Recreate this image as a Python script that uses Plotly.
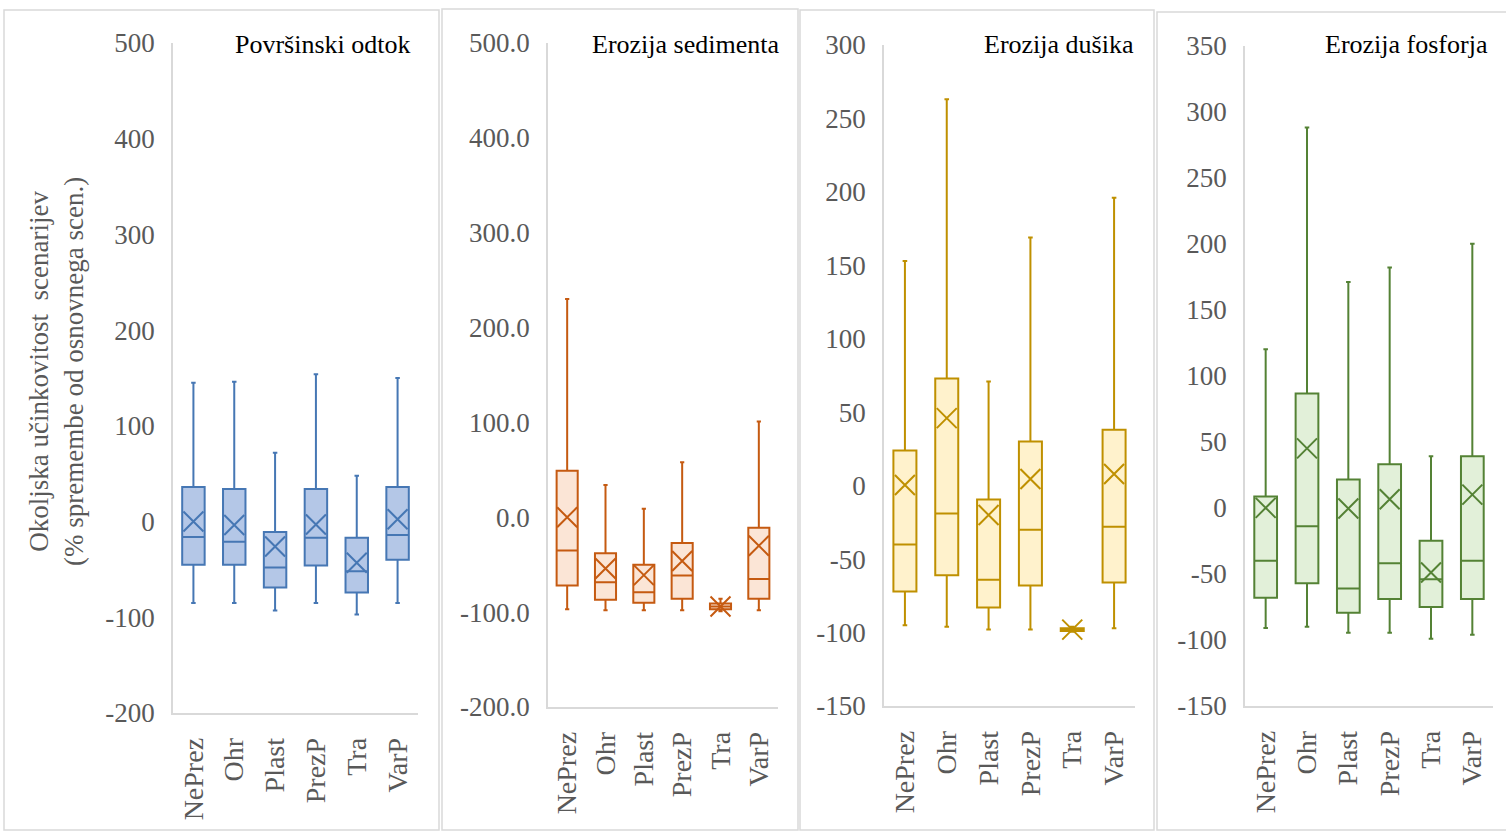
import plotly.graph_objects as go

categories = ["NePrez", "Ohr", "Plast", "PrezP", "Tra", "VarP"]

titles = ["Površinski odtok", "Erozija sedimenta", "Erozija dušika", "Erozija fosforja"]

# Panel 1: Površinski odtok
p1_low = [-85, -85, -93, -85, -97, -85]
p1_q1 = [-45, -45, -69, -46, -74, -40]
p1_med = [-16, -21, -48, -17, -52, -14]
p1_q3 = [36, 34, -11, 34, -17, 36]
p1_high = [145, 146, 72, 154, 48, 150]
p1_mean = [0, -3.5, -26, -3, -43, 2.5]

# Panel 2: Erozija sedimenta
p2_low = [-97, -98, -98, -98, -99, -98]
p2_q1 = [-72, -87, -90, -86, -97, -86]
p2_med = [-35, -68.5, -79, -61.5, -94, -65]
p2_q3 = [49, -38, -50, -27, -91, -11]
p2_high = [230, 34, 9, 58, -86, 101]
p2_mean = [0, -54, -61, -46, -94, -30]

# Panel 3: Erozija dušika
p3_low = [-95, -96, -98, -98, -99.5, -97]
p3_q1 = [-72, -61, -83, -68, -99, -66]
p3_med = [-40, -19, -64, -30, -98, -28]
p3_q3 = [24, 73, -9.5, 30, -97, 38]
p3_high = [153, 263, 71, 169, -96, 196]
p3_mean = [0.5, 46, -20, 4.5, -98, 8]

# Panel 4: Erozija fosforja
p4_low = [-91, -90, -94.5, -94.5, -99, -96]
p4_q1 = [-68, -57, -79.5, -69, -75, -69]
p4_med = [-40, -14, -61, -42, -54, -40]
p4_q3 = [8.5, 86.5, 21.5, 33, -25, 39]
p4_high = [120, 288, 171, 182, 39, 200]
p4_mean = [0, 45, -0.5, 6.5, -49, 10]

# Y tick values and labels per panel
p1_ticks = [-200, -100, 0, 100, 200, 300, 400, 500]
p1_ticktext = ["-200", "-100", "0", "100", "200", "300", "400", "500"]
p2_ticks = [-200, -100, 0, 100, 200, 300, 400, 500]
p2_ticktext = ["-200.0", "-100.0", "0.0", "100.0", "200.0", "300.0", "400.0", "500.0"]
p3_ticks = [-150, -100, -50, 0, 50, 100, 150, 200, 250, 300]
p3_ticktext = ["-150", "-100", "-50", "0", "50", "100", "150", "200", "250", "300"]
p4_ticks = [-150, -100, -50, 0, 50, 100, 150, 200, 250, 300, 350]
p4_ticktext = ["-150", "-100", "-50", "0", "50", "100", "150", "200", "250", "300", "350"]

y_ranges = [[-200, 500], [-200, 500], [-150, 300], [-150, 350]]
tick_sets = [(p1_ticks, p1_ticktext), (p2_ticks, p2_ticktext),
             (p3_ticks, p3_ticktext), (p4_ticks, p4_ticktext)]

line_colors = ["#4677B4", "#C55A11", "#BF9000", "#548235"]
fill_colors = ["#B4C7E7", "#FBE5D6", "#FFF2CC", "#E2F0D9"]

W, H = 1506, 831
def px(x):
    return x / W
def py(y):
    return (H - y) / H

x_domains = [[px(173), px(418)], [px(548), px(778)], [px(884), px(1135)], [px(1245), px(1493)]]
y_domains = [[py(713), py(43)], [py(707), py(43)], [py(706), py(45)], [py(706), py(45.5)]]
panel_boxes = [(4, 439, 10), (442, 798, 9), (800, 1154, 10), (1157, 1510, 12)]
title_pos = [(413, 44), (781, 44), (1136, 44), (1490, 44)]

data = [
    (p1_low, p1_q1, p1_med, p1_q3, p1_high, p1_mean),
    (p2_low, p2_q1, p2_med, p2_q3, p2_high, p2_mean),
    (p3_low, p3_q1, p3_med, p3_q3, p3_high, p3_mean),
    (p4_low, p4_q1, p4_med, p4_q3, p4_high, p4_mean),
]

FONT = "Liberation Serif"
GRAY = "#595959"
AXIS = "#D9D9D9"

fig = go.Figure()
layout = dict(
    template="none",
    width=W, height=H,
    margin=dict(l=0, r=0, t=0, b=0, pad=0),
    paper_bgcolor="white", plot_bgcolor="white",
    showlegend=False,
    font=dict(family=FONT, color=GRAY),
)

shapes = []
annotations = []
for i, (low, q1, med, q3, high, mean) in enumerate(data):
    xa = "x" if i == 0 else f"x{i+1}"
    ya = "y" if i == 0 else f"y{i+1}"
    fig.add_trace(go.Box(
        x=categories, q1=q1, median=med, q3=q3,
        lowerfence=low, upperfence=high,
        width=0.55,
        fillcolor=fill_colors[i],
        line=dict(color=line_colors[i], width=2),
        whiskerwidth=0.2,
        boxpoints=False,
        xaxis=xa, yaxis=ya,
    ))
    fig.add_trace(go.Scatter(
        x=categories, y=mean, mode="markers",
        marker=dict(symbol="x-thin", size=20,
                    line=dict(color=line_colors[i], width=2)),
        xaxis=xa, yaxis=ya,
    ))
    xk = "xaxis" if i == 0 else f"xaxis{i+1}"
    yk = "yaxis" if i == 0 else f"yaxis{i+1}"
    tv, tt = tick_sets[i]
    layout[xk] = dict(
        domain=x_domains[i], anchor=ya, type="category",
        range=[-0.5, len(categories) - 0.5],
        automargin=False,
        showline=True, linecolor=AXIS, linewidth=1.5,
        showgrid=False, zeroline=False,
        ticks="outside", ticklen=12, tickcolor="rgba(0,0,0,0)",
        tickangle=-90,
        tickfont=dict(family=FONT, size=28, color=GRAY),
    )
    layout[yk] = dict(
        domain=y_domains[i], anchor=xa,
        automargin=False,
        range=y_ranges[i], tickmode="array", tickvals=tv, ticktext=tt,
        showline=True, linecolor=AXIS, linewidth=1.5,
        showgrid=False, zeroline=False,
        ticks="outside", ticklen=11, tickcolor="rgba(0,0,0,0)",
        tickfont=dict(family=FONT, size=27, color=GRAY),
    )
    x0, x1, top = panel_boxes[i]
    shapes.append(dict(type="rect", xref="paper", yref="paper",
                       x0=px(x0), x1=px(x1), y0=py(830), y1=py(top),
                       line=dict(color=AXIS, width=1.5), layer="below"))
    tx, ty = title_pos[i]
    annotations.append(dict(text=titles[i], xref="paper", yref="paper",
                            x=px(tx), y=py(ty), xanchor="right", yanchor="middle",
                            showarrow=False,
                            font=dict(family=FONT, size=26, color="black")))

annotations.append(dict(
    text="Okoljska učinkovitost  scenarijev<br>(% spremembe od osnovnega scen.)",
    xref="paper", yref="paper", x=px(56), y=py(372),
    xanchor="center", yanchor="middle", textangle=-90, showarrow=False,
    font=dict(family=FONT, size=27, color=GRAY),
))

layout["shapes"] = shapes
layout["annotations"] = annotations
fig.update_layout(**layout)
fig.write_html("out.html",
               config={"displayModeBar": False},
               post_script="document.body.style.margin='0';document.body.style.overflow='hidden';")
